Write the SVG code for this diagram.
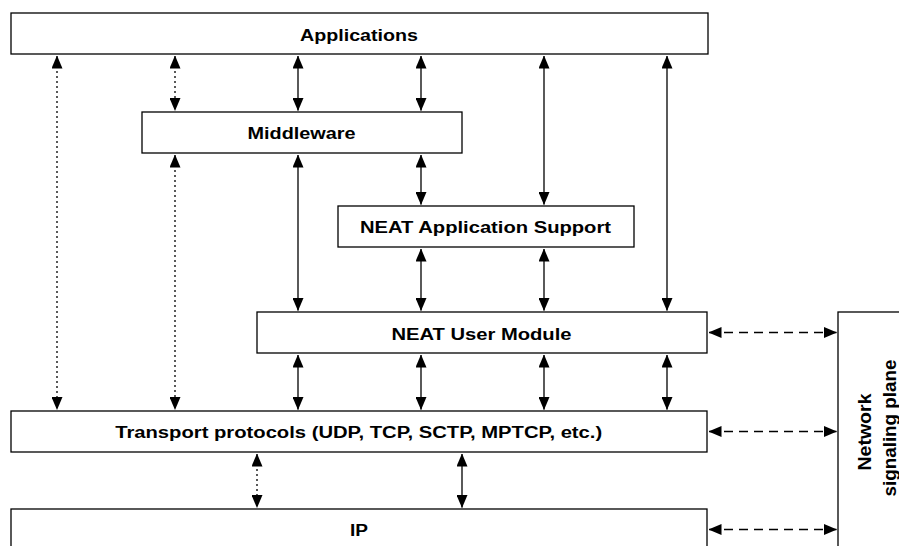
<svg xmlns="http://www.w3.org/2000/svg" width="899" height="546" viewBox="0 0 899 546">
<style>
.box{fill:#fff;stroke:#000;stroke-width:1.3}
.lbl{font-family:"Liberation Sans",Arial,Helvetica,sans-serif;font-weight:bold;font-size:16px;fill:#000;text-anchor:middle}
.rl{font-size:19px}
.c{fill:none;stroke:#000;stroke-width:1.3;marker-start:url(#ah);marker-end:url(#ah)}
.dot{stroke-dasharray:2,3}
.dash{stroke-dasharray:9,6}
</style>
<defs>
<marker id="ah" markerUnits="userSpaceOnUse" markerWidth="13" markerHeight="11" viewBox="0 0 13 11" refX="12.5" refY="5.5" orient="auto-start-reverse">
<path d="M0,0 L13,5.5 L0,11 Z" fill="#000"/>
</marker>
</defs>
<rect width="899" height="546" fill="#fff"/>
<g id="connectors">
<path class="c dot" d="M57,56 V409.5"/>
<path class="c dot" d="M175,56 V110.5"/>
<path class="c" d="M298,56 V110.5"/>
<path class="c" d="M421,56 V110.5"/>
<path class="c" d="M544,56 V204.5"/>
<path class="c" d="M667,56 V310.5"/>
<path class="c dot" d="M175,155 V409.5"/>
<path class="c" d="M298,155 V310.5"/>
<path class="c" d="M421,155 V204.5"/>
<path class="c" d="M421,249 V310.5"/>
<path class="c" d="M544,249 V310.5"/>
<path class="c" d="M298,355 V409.5"/>
<path class="c" d="M421,355 V409.5"/>
<path class="c" d="M544,355 V409.5"/>
<path class="c" d="M667,355 V409.5"/>
<path class="c dot" d="M257,454 V507.5"/>
<path class="c" d="M462,454 V507.5"/>
<path class="c dash" d="M709,332.5 H836.5"/>
<path class="c dash" d="M709,431.5 H836.5"/>
<path class="c dash" d="M709,529.5 H836.5"/>
</g>
<g id="applications">
<rect class="box" x="11" y="13" width="697" height="41"/>
<text class="lbl" x="359" y="40.5" textLength="118" lengthAdjust="spacingAndGlyphs">Applications</text>
</g>
<g id="middleware">
<rect class="box" x="142" y="112" width="320" height="41"/>
<text class="lbl" x="301.5" y="138.5" textLength="108" lengthAdjust="spacingAndGlyphs">Middleware</text>
</g>
<g id="neat-app-support">
<rect class="box" x="338" y="206" width="296" height="41"/>
<text class="lbl" x="485.5" y="233" textLength="251" lengthAdjust="spacingAndGlyphs">NEAT Application Support</text>
</g>
<g id="neat-user-module">
<rect class="box" x="257" y="312" width="450" height="41"/>
<text class="lbl" x="481.5" y="339.5" textLength="180" lengthAdjust="spacingAndGlyphs">NEAT User Module</text>
</g>
<g id="transport">
<rect class="box" x="11" y="411" width="696" height="41"/>
<text class="lbl" x="358.7" y="437.5" textLength="487" lengthAdjust="spacingAndGlyphs">Transport protocols (UDP, TCP, SCTP, MPTCP, etc.)</text>
</g>
<g id="ip">
<rect class="box" x="11" y="509" width="696" height="41"/>
<text class="lbl" x="359" y="536" textLength="18" lengthAdjust="spacingAndGlyphs">IP</text>
</g>
<g id="network-signaling-plane">
<rect class="box" x="838" y="312" width="100" height="300"/>
<text class="lbl rl" transform="translate(871,432) rotate(-90)" textLength="77" lengthAdjust="spacingAndGlyphs">Network</text>
<text class="lbl rl" transform="translate(896,428) rotate(-90)" textLength="137" lengthAdjust="spacingAndGlyphs">signaling plane</text>
</g>
</svg>
